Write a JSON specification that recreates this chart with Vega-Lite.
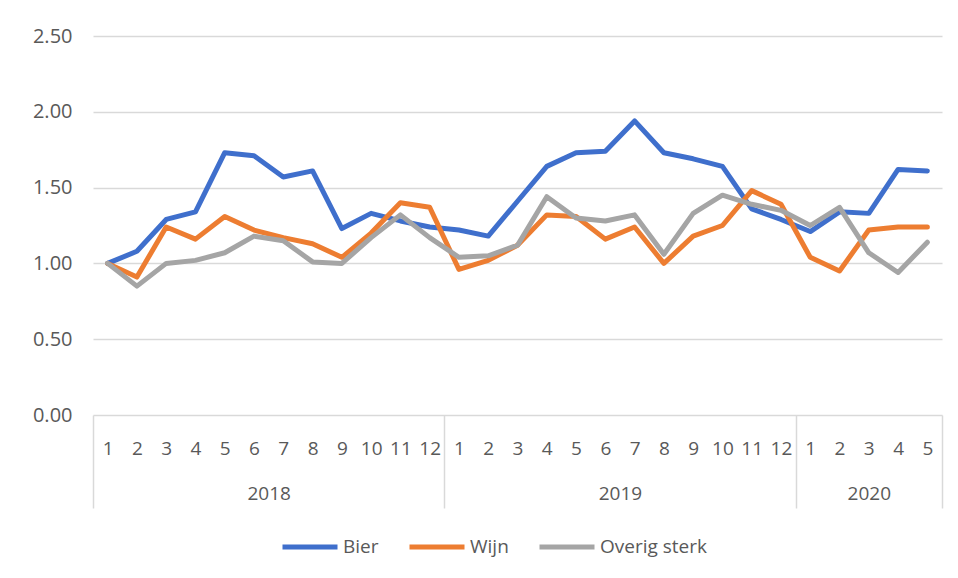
{
  "$schema": "https://vega.github.io/schema/vega-lite/v6.json",
  "width": 849,
  "height": 379,
  "autosize": "none",
  "padding": {"left": 93, "top": 36, "right": 16, "bottom": 163},
  "background": "white",
  "config": {
    "font": "Open Sans",
    "view": {"stroke": null},
    "axis": {"labelColor": "#595959", "labelFontSize": 19, "title": null}
  },
  "data": {
    "values": [
      {"year": 2018, "month": 1, "t": 0, "Bier": 1.00, "Wijn": 1.00, "Overig sterk": 1.00},
      {"year": 2018, "month": 2, "t": 1, "Bier": 1.08, "Wijn": 0.91, "Overig sterk": 0.85},
      {"year": 2018, "month": 3, "t": 2, "Bier": 1.29, "Wijn": 1.24, "Overig sterk": 1.00},
      {"year": 2018, "month": 4, "t": 3, "Bier": 1.34, "Wijn": 1.16, "Overig sterk": 1.02},
      {"year": 2018, "month": 5, "t": 4, "Bier": 1.73, "Wijn": 1.31, "Overig sterk": 1.07},
      {"year": 2018, "month": 6, "t": 5, "Bier": 1.71, "Wijn": 1.22, "Overig sterk": 1.18},
      {"year": 2018, "month": 7, "t": 6, "Bier": 1.57, "Wijn": 1.17, "Overig sterk": 1.15},
      {"year": 2018, "month": 8, "t": 7, "Bier": 1.61, "Wijn": 1.13, "Overig sterk": 1.01},
      {"year": 2018, "month": 9, "t": 8, "Bier": 1.23, "Wijn": 1.04, "Overig sterk": 1.00},
      {"year": 2018, "month": 10, "t": 9, "Bier": 1.33, "Wijn": 1.20, "Overig sterk": 1.17},
      {"year": 2018, "month": 11, "t": 10, "Bier": 1.28, "Wijn": 1.40, "Overig sterk": 1.32},
      {"year": 2018, "month": 12, "t": 11, "Bier": 1.24, "Wijn": 1.37, "Overig sterk": 1.17},
      {"year": 2019, "month": 1, "t": 12, "Bier": 1.22, "Wijn": 0.96, "Overig sterk": 1.04},
      {"year": 2019, "month": 2, "t": 13, "Bier": 1.18, "Wijn": 1.02, "Overig sterk": 1.05},
      {"year": 2019, "month": 3, "t": 14, "Bier": 1.41, "Wijn": 1.12, "Overig sterk": 1.12},
      {"year": 2019, "month": 4, "t": 15, "Bier": 1.64, "Wijn": 1.32, "Overig sterk": 1.44},
      {"year": 2019, "month": 5, "t": 16, "Bier": 1.73, "Wijn": 1.31, "Overig sterk": 1.30},
      {"year": 2019, "month": 6, "t": 17, "Bier": 1.74, "Wijn": 1.16, "Overig sterk": 1.28},
      {"year": 2019, "month": 7, "t": 18, "Bier": 1.94, "Wijn": 1.24, "Overig sterk": 1.32},
      {"year": 2019, "month": 8, "t": 19, "Bier": 1.73, "Wijn": 1.00, "Overig sterk": 1.06},
      {"year": 2019, "month": 9, "t": 20, "Bier": 1.69, "Wijn": 1.18, "Overig sterk": 1.33},
      {"year": 2019, "month": 10, "t": 21, "Bier": 1.64, "Wijn": 1.25, "Overig sterk": 1.45},
      {"year": 2019, "month": 11, "t": 22, "Bier": 1.36, "Wijn": 1.48, "Overig sterk": 1.39},
      {"year": 2019, "month": 12, "t": 23, "Bier": 1.29, "Wijn": 1.39, "Overig sterk": 1.35},
      {"year": 2020, "month": 1, "t": 24, "Bier": 1.21, "Wijn": 1.04, "Overig sterk": 1.25},
      {"year": 2020, "month": 2, "t": 25, "Bier": 1.34, "Wijn": 0.95, "Overig sterk": 1.37},
      {"year": 2020, "month": 3, "t": 26, "Bier": 1.33, "Wijn": 1.22, "Overig sterk": 1.07},
      {"year": 2020, "month": 4, "t": 27, "Bier": 1.62, "Wijn": 1.24, "Overig sterk": 0.94},
      {"year": 2020, "month": 5, "t": 28, "Bier": 1.61, "Wijn": 1.24, "Overig sterk": 1.14}
    ]
  },
  "transform": [
    {"fold": ["Bier", "Wijn", "Overig sterk"], "as": ["series", "value"]}
  ],
  "resolve": {"axis": {"x": "independent"}},
  "layer": [
    {
      "mark": {"type": "line", "strokeWidth": 5, "strokeJoin": "round", "strokeCap": "round"},
      "encoding": {
        "x": {
          "field": "t", "type": "quantitative",
          "scale": {"domain": [-0.5, 28.5], "nice": false, "zero": false},
          "axis": {
            "orient": "bottom",
            "values": [0,1,2,3,4,5,6,7,8,9,10,11,12,13,14,15,16,17,18,19,20,21,22,23,24,25,26,27,28],
            "labelExpr": "(datum.value % 12) + 1",
            "grid": false, "ticks": false, "domain": false,
            "labelBaseline": "middle", "labelPadding": 33,
            "labelFlush": false, "labelOverlap": false, "labelBound": false
          }
        },
        "y": {
          "field": "value", "type": "quantitative",
          "scale": {"domain": [0, 2.5], "nice": false},
          "axis": {
            "values": [0, 0.5, 1, 1.5, 2, 2.5],
            "format": ".2f",
            "domain": false, "ticks": false,
            "gridColor": "#d9d9d9", "gridWidth": 1.5,
            "labelPadding": 21, "labelFontSize": 20
          }
        },
        "color": {
          "field": "series", "type": "nominal",
          "scale": {"domain": ["Bier", "Wijn", "Overig sterk"], "range": ["#3f6fcc", "#ED7D31", "#A5A5A5"]},
          "legend": {
            "orient": "none", "legendX": 187, "legendY": 481,
            "direction": "horizontal", "title": null,
            "symbolType": "stroke", "symbolStrokeWidth": 5, "symbolSize": 3025,
            "labelFontSize": 19, "labelColor": "#595959", "labelOffset": 3,
            "columnPadding": 20
          }
        },
        "order": {"field": "t"}
      }
    },
    {
      "mark": {"type": "point", "opacity": 0},
      "encoding": {
        "x": {
          "field": "t", "type": "quantitative",
          "axis": {
            "orient": "bottom",
            "values": [5.5, 17.5, 26],
            "labelExpr": "datum.value < 12 ? '2018' : datum.value < 24 ? '2019' : '2020'",
            "grid": false, "ticks": false, "domain": false,
            "labelBaseline": "middle", "labelPadding": 78,
            "labelFlush": false, "labelOverlap": false, "labelBound": false
          }
        },
        "y": {"field": "value", "type": "quantitative"}
      }
    },
    {
      "mark": {"type": "point", "opacity": 0},
      "encoding": {
        "x": {
          "field": "t", "type": "quantitative",
          "axis": {
            "orient": "bottom",
            "values": [-0.5, 11.5, 23.5, 28.5],
            "labels": false, "grid": false, "domain": false,
            "ticks": true, "tickSize": 93, "tickColor": "#d9d9d9", "tickWidth": 1.5
          }
        },
        "y": {"field": "value", "type": "quantitative"}
      }
    }
  ]
}
